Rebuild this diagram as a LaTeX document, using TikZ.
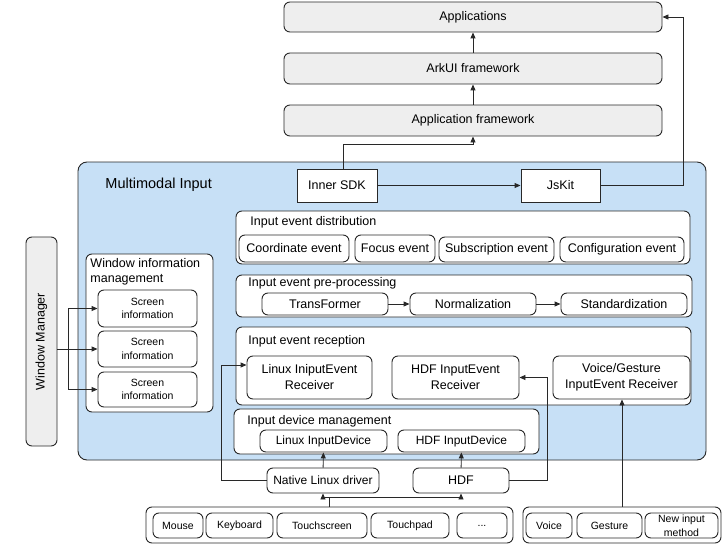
\documentclass[tikz,border=0pt]{standalone}
\usepackage{fontspec}
\setmainfont{Liberation Sans}
\usetikzlibrary{arrows.meta}
\definecolor{mmiblue}{RGB}{199,224,246}
\definecolor{boxgray}{RGB}{238,238,238}
\definecolor{linegray}{RGB}{40,40,40}
\newcommand\blk[7][box]{\node[#1,minimum width={(#5)-(#3)},minimum height={(#6)-(#4)}] (#2) at ({((#3)+(#5))/2},{((#4)+(#6))/2}) {#7};}
\tikzset{
  box/.style={draw=linegray, fill=white, rounded corners=6pt, align=center, inner sep=0pt},
  graybox/.style={box, fill=boxgray},
  sharpbox/.style={box, rounded corners=0pt},
  smallbox/.style={box, font=\fontsize{10.5}{13.5}\selectfont},
  title/.style={anchor=west, inner sep=0pt, align=left},
  arr/.style={draw=linegray, -{Triangle[length=6pt,width=5pt]}}
}
\begin{document}
\begin{tikzpicture}[x=1pt,y=-1pt,line width=0.9pt,font=\fontsize{12.5}{16}\selectfont]
\useasboundingbox (0,0) rectangle (726,551);
\blk[graybox]{apps}{284}{2}{662}{32}{Applications}
\blk[graybox]{ark}{284}{53}{662}{84}{ArkUI framework}
\blk[graybox]{appfw}{284}{105}{662}{136}{Application framework}
\blk[box, fill=mmiblue, rounded corners=9pt]{mmi}{78}{162}{706}{460}{}
\node[title, font=\fontsize{14.5}{17}\selectfont] (mmititle) at (105,185) {Multimodal Input};
\blk[sharpbox]{sdk}{297}{169}{377}{202}{Inner SDK}
\blk[sharpbox]{jskit}{521}{169}{600}{202}{JsKit}
\blk[graybox]{wm}{26}{237}{57}{446}{}
\node[rotate=90] (wmtext) at (wm) {Window Manager};
\blk{winfo}{86}{254}{213}{412}{}
\node[title, font=\fontsize{12.5}{15.5}\selectfont] (winfotitle) at (90,272) {Window information\\management};
\foreach \i/\a/\b in {1/290/327,2/331/367,3/372/407}
  \blk[smallbox]{scr\i}{98}{\a}{197}{\b}{Screen\\information};
\blk{dist}{236}{211}{690}{264}{}
\node[title] (disttitle) at (250,222) {Input event distribution};
\blk{coord}{239}{235}{349}{262}{Coordinate event}
\blk{focus}{355}{235}{435}{262}{Focus event}
\blk{subs}{439}{237}{554}{262}{Subscription event}
\blk{conf}{560}{237}{684}{262}{Configuration event}
\blk{prep}{236}{275}{692}{317}{}
\node[title] (preptitle) at (248,283) {Input event pre-processing};
\blk{trans}{262}{293}{388}{315}{TransFormer}
\blk{norm}{410}{293}{536}{315}{Normalization}
\blk{stand}{561}{293}{687}{315}{Standardization}
\blk{recv}{236}{327}{691}{405}{}
\node[title] (recvtitle) at (248,341) {Input event reception};
\blk{lxrecv}{247}{356}{372}{399}{Linux IniputEvent\\Receiver}
\blk{hdfrecv}{392}{356}{519}{399}{HDF InputEvent\\Receiver}
\blk{vgrecv}{553}{356}{690}{399}{Voice/Gesture\\InputEvent Receiver}
\blk{devm}{234}{409}{539}{454}{}
\node[title] (devmtitle) at (247,421) {Input device management};
\blk[box, font=\fontsize{12}{14}\selectfont]{lxdev}{260}{430}{387}{452}{Linux InputDevice}
\blk[box, font=\fontsize{12}{14}\selectfont]{hdfdev}{398}{430}{525}{452}{HDF InputDevice}
\blk[box, font=\fontsize{12}{14}\selectfont]{nld}{267}{468}{379}{493}{Native Linux driver}
\blk[box, font=\fontsize{12.5}{14}\selectfont]{hdf}{413}{468}{509}{493}{HDF}
\blk{lgrp}{146}{507}{513}{543}{}
\blk{rgrp}{523}{507}{721}{543}{}
\foreach \nm/\a/\b/\t in {mouse/153/203/Mouse,keyb/206/273/Keyboard,touchs/277/367/Touchscreen,touchp/371/449/Touchpad,voice/526/572/Voice,gest/577/642/Gesture,newim/645/718/{New input\\method}}
  \blk[smallbox]{\nm}{\a}{513}{\b}{538}{\t};
\blk[smallbox]{more}{457}{513}{507}{538}{...}
\draw[arr] (ark) -- (apps);
\draw[arr] (appfw) -- (ark);
\draw[arr] ([xshift=6pt]sdk.north) -- ++(0,-24) -| (appfw.south);
\draw[arr] (jskit.east) -- ++(83,0) |- (apps.east);
\draw[arr] (sdk) -- (jskit);
\draw[arr] (trans) -- (norm);
\draw[arr] (norm) -- (stand);
\draw[linegray] (wm.east |- scr2.west) -- ++(11,0) coordinate (wmsplit);
\foreach \i in {1,2,3}
  \draw[arr] (wmsplit) |- (scr\i.west);
\draw[arr] (nld.west) -- ++(-45,0) |- ([yshift=12.5pt]lxrecv.west);
\draw[arr] (hdf.east) -- ++(38,0) |- (hdfrecv.east);
\draw[arr] (nld) -- (lxdev);
\draw[arr] (hdf) -- (hdfdev);
\draw[linegray] (lgrp.north) -- ++(0,-9) coordinate (devsplit);
\draw[arr] (devsplit) -| (nld.south);
\draw[arr] (devsplit) -| (hdf.south);
\draw[arr] (rgrp.north) -- (rgrp.north |- vgrecv.south);
\end{tikzpicture}
\end{document}
